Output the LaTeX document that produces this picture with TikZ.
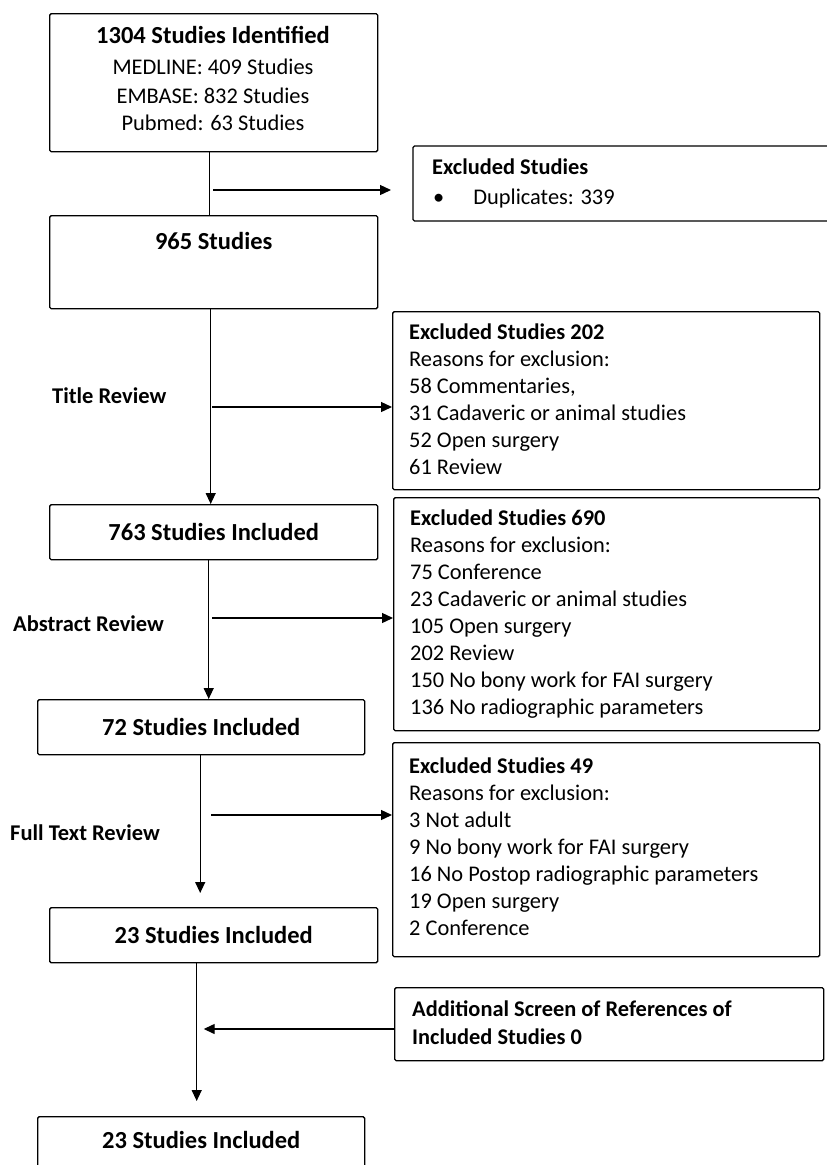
\documentclass[tikz,border=0pt]{standalone}
\usepackage{fontspec}
\setmainfont{Carlito}
\usetikzlibrary{arrows.meta}
\begin{document}
\begin{tikzpicture}[x=1pt,y=-1pt,
  box/.style={draw, line width=1.4pt, rounded corners=1.5pt, inner sep=0pt, anchor=north west},
  conn/.style={line width=1.3pt},
  arr/.style={conn, -{Triangle[length=11pt,width=10pt]}},
  fnt/.style={font=\fontsize{22.4}{27}\selectfont},
  ttl/.style={font=\fontsize{24.5}{27}\selectfont\bfseries},
  lbl/.style={inner sep=0pt, font=\fontsize{22.5}{27}\selectfont\bfseries},
  list/.style={fnt, inner sep=0pt, align=left, anchor=north west}]
\useasboundingbox (0,0) rectangle (827,1165);
% left column boxes
\node[box, minimum width=328pt, minimum height=138pt] (b1) at (49,13) {};
\node[inner sep=0pt, align=center, fnt, anchor=north] (b1t) at (213,26)
  {{\fontsize{24.5}{27}\selectfont\bfseries 1304 Studies Identified}\\[4pt]MEDLINE: 409 Studies\\[2pt]EMBASE: 832 Studies\\Pubmed: 63 Studies};
\node[box, minimum width=328pt, minimum height=93pt,
  label={[ttl, inner sep=0pt, anchor=north, yshift=-17pt]north:965 Studies}] (b2) at (49,215) {};
\node[box, minimum width=328pt, minimum height=55pt, ttl] (b3) at (49,504) {763 Studies Included};
\node[box, minimum width=327pt, minimum height=55pt, ttl] (b4) at (37,699) {72 Studies Included};
\node[box, minimum width=328pt, minimum height=55pt, ttl] (b5) at (49,907) {23 Studies Included};
\node[box, minimum width=327pt, minimum height=70pt,
  label={[ttl, inner sep=0pt, anchor=north, yshift=-15pt]north:23 Studies Included}] (b6) at (37,1116) {};
% right column boxes
\draw[line width=1.4pt, rounded corners=1.5pt] (840,146) -- (413,146) -- (413,221) -- (840,221);
\coordinate (dupw) at (413,190);
\node[list] (dupt) at (432,159) {\textbf{Excluded Studies}\\[3pt]\hspace*{1pt}\textbullet\hspace{29pt}Duplicates: 339};
\node[box, minimum width=427pt, minimum height=178pt] (e1) at (392,311) {};
\node[list] (e1t) at (409,324) {\textbf{Excluded Studies 202}\\Reasons for exclusion:\\58 Commentaries,\\31 Cadaveric or animal studies\\52 Open surgery\\61 Review};
\node[box, minimum width=426pt, minimum height=233pt] (e2) at (393,497) {};
\node[list] (e2t) at (410,510) {\textbf{Excluded Studies 690}\\Reasons for exclusion:\\75 Conference\\23 Cadaveric or animal studies\\105 Open surgery\\202 Review\\150 No bony work for FAI surgery\\136 No radiographic parameters};
\node[box, minimum width=427pt, minimum height=214pt] (e3) at (392,742) {};
\node[list] (e3t) at (409,758) {\textbf{Excluded Studies 49}\\Reasons for exclusion:\\3 Not adult\\9 No bony work for FAI surgery\\16 No Postop radiographic parameters\\19 Open surgery\\2 Conference};
\node[box, minimum width=429pt, minimum height=73pt] (add) at (394,987) {};
\node[list, font=\fontsize{22.4}{28}\selectfont\bfseries] (addt) at (412,1001) {Additional Screen of References of\\Included Studies 0};
% stage labels
\node[lbl, anchor=west] (l1) at (52,396) {Title Review};
\node[lbl, anchor=west] (l2) at (13,624) {Abstract Review};
\node[lbl, anchor=west] (l3) at (10,833) {Full Text Review};
% connectors
\draw[conn] ([xshift=-4pt]b1.south) -- ([xshift=-4pt]b2.north);
\coordinate (s1) at (213,190);
\draw[arr] (s1) -- ([xshift=-22pt]s1 -| dupw);
\draw[arr] ([xshift=-3pt]b2.south) -- ([xshift=-3pt]b3.north);
\coordinate (s2) at (212,407);
\draw[arr] (s2) -- (s2 -| e1.west);
\draw[arr] ([xshift=-5pt]b3.south) -- ([xshift=-5pt]b3.south |- b4.north);
\coordinate (s3) at (212,618);
\draw[arr] (s3) -- (s3 -| e2.west);
\draw[arr] ([xshift=-1pt]b4.south) -- ([xshift=-1pt,yshift=14pt]b4.south |- b5.north);
\coordinate (s4) at (211,815);
\draw[arr] (s4) -- (s4 -| e3.west);
\coordinate (v5) at ([xshift=-17pt]b5.south);
\draw[arr] (v5) -- ([yshift=15pt]v5 |- b6.north);
\coordinate (s5) at (394,1029);
\draw[arr] (s5) -- ([xshift=7pt]s5 -| v5);
\end{tikzpicture}
\end{document}
